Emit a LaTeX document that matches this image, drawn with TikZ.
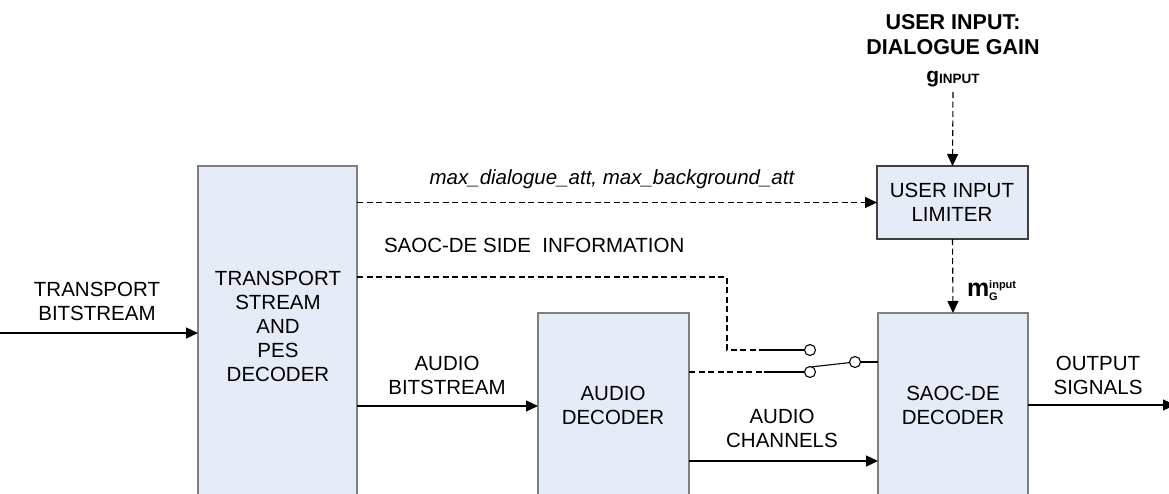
\documentclass[tikz,border=0pt]{standalone}
\usepackage{fontspec}
\setmainfont{Liberation Sans}
\usetikzlibrary{arrows.meta}
\definecolor{boxfill}{HTML}{E6ECF7}
\definecolor{boxline}{HTML}{7F7F7F}
\begin{document}
\begin{tikzpicture}[x=1pt,y=-1pt,
  font=\fontsize{20.5}{24}\selectfont,
  every node/.style={inner sep=0pt,outer sep=0pt},
  blk/.style={draw=boxline,fill=boxfill,line width=1.4pt,anchor=north west,rectangle},
  txt/.style={align=center,text=black},
  conn/.style={line width=1.1pt,draw=black},
  dconn/.style={conn,dash pattern=on 6pt off 3.5pt},
  tip/.style={-{Triangle[length=12pt,width=11pt]}},
  swc/.style={circle,draw=black,line width=1.1pt,fill=white,minimum size=11pt}]
\useasboundingbox (0,0) rectangle (1169,493);
\clip (0,0) rectangle (1169,493);
% blocks
\node[blk,minimum width=159pt,minimum height=400pt] (tsp) at (198,166) {};
\node[blk,minimum width=151pt,minimum height=300pt] (adec) at (538,313) {};
\node[blk,minimum width=150pt,minimum height=300pt] (sdec) at (878,313) {};
\node[blk,minimum width=151pt,minimum height=73pt,draw=black!75] (lim) at (877,166) {};
% block texts
\node[txt] (tspT) at (278,326) {TRANSPORT\\STREAM\\AND\\PES\\DECODER};
\node[txt] (adecT) at (613,405) {AUDIO\\DECODER};
\node[txt] (sdecT) at (953,405) {SAOC-DE\\DECODER};
\node[txt] (limT) at (952,202) {USER INPUT\\LIMITER};
% labels
\node[txt] (tbL) at (97,301) {TRANSPORT\\BITSTREAM};
\node[txt] (abL) at (447,375) {AUDIO\\BITSTREAM};
\node[txt] (acL) at (782,428) {AUDIO\\CHANNELS};
\node[txt] (osL) at (1098,375) {OUTPUT\\SIGNALS};
\node[txt,font=\fontsize{21.5}{25}\selectfont\bfseries] (uiL) at (953,35) {USER INPUT:\\DIALOGUE GAIN};
\node[anchor=base,font=\fontsize{21}{24}\selectfont\bfseries] (gL) at (953,82) {g\raisebox{-1pt}{\fontsize{13.5}{13.5}\selectfont INPUT}};
\node[anchor=base,font=\fontsize{20.5}{24}\selectfont\itshape] (attL) at (612,184) {max\_dialogue\_att, max\_background\_att};
\node[anchor=base west] (sideL) at (384,252.5) {SAOC-DE SIDE\ \ INFORMATION};
\node[anchor=base west,font=\fontsize{25}{25}\selectfont\bfseries] (mL) at (967,296) {m\rlap{\raisebox{8pt}{\fontsize{11}{11}\selectfont\bfseries input}}\raisebox{-4pt}{\fontsize{11}{11}\selectfont\bfseries G}};
% switch
\node[swc] (s1) at (810,350) {};
\node[swc] (s2) at (810,372) {};
\node[swc] (s3) at (855,362) {};
\coordinate (c1) at (727,277);
\coordinate (c2) at (727,350);
\coordinate (c3) at (764,350);
\coordinate (c4) at (764,372);
\coordinate (tbin) at (0,333);
\coordinate (outend) at (1175,405);
% connectors
\draw[conn,tip] (tbin) -- (tsp.west |- tbin);
\draw[dconn,tip] (tsp.east |- lim.west) -- (lim.west);
\draw[dconn] (tsp.east |- c1) -- (c1) -- (c2) -- (c3);
\draw[conn] (c3) -- (s1);
\draw[dconn] (adec.east |- c4) -- (c4);
\draw[conn] (c4) -- (s2);
\draw[conn] (s2.70) -- (s3);
\draw[conn] (s3) -- (sdec.west |- s3);
\draw[conn,tip] (tsp.east |- 0,406) -- (adec.west |- 0,406);
\draw[conn,tip] (adec.east |- 0,461) -- (sdec.west |- 0,461);
\draw[conn,tip] (sdec.east |- outend) -- (outend);
\draw[dconn,tip] (gL.south |- 0,92) -- (lim.north);
\draw[dconn,tip] (lim.south) -- (sdec.north);
\end{tikzpicture}
\end{document}
